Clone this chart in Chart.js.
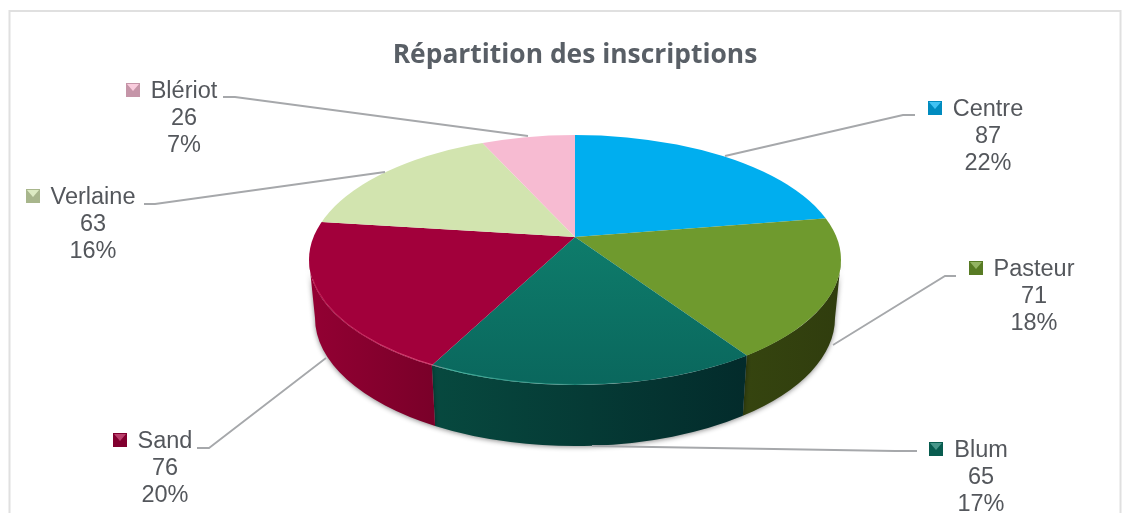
<!DOCTYPE html>
<html lang="fr">
<head>
<meta charset="utf-8">
<title>Répartition des inscriptions</title>
<script src="https://cdn.jsdelivr.net/npm/chart.js@4"></script>
<style>
  html, body { margin: 0; background: #fff; }
  canvas { display: block; }
</style>
</head>
<body>
<canvas id="pieChart" width="1131" height="513"></canvas>
<script>
const chartTitle = 'Répartition des inscriptions';
const categories = ['Centre', 'Pasteur', 'Blum', 'Sand', 'Verlaine', 'Blériot'];
const inscriptions = [87, 71, 65, 76, 63, 26];

const topColors = ['#00aeef', '#6f9a2e', '#0b7363', '#a2003b', '#d2e4af', '#f7bbd2'];
const sideFrom = ['#0080b0', '#35440f', '#07493f', '#930033', '#9aa880', '#b58a9a'];
const sideTo = ['#006a94', '#303d0e', '#032b2b', '#7a0029', '#8a9872', '#a57d8c'];

// Where the labels sit around the pie: [text centre x, first line y], leader line points
const labelSpots = [
  { x: 988, y: 108, leader: [[915, 115], [903, 115], [725, 156]] },
  { x: 1034, y: 268, leader: [[956, 276], [945, 276], [833, 345]] },
  { x: 981, y: 449, leader: [[917, 451], [895, 451], [592, 446]] },
  { x: 165, y: 440, leader: [[197, 448], [209, 448], [326, 358]] },
  { x: 93, y: 196, leader: [[144, 204], [155, 204], [385, 172]] },
  { x: 184, y: 90, leader: [[223, 97], [235, 97], [528, 136]] }
];

// Pseudo 3D projection of the flat pie
const apex = { x: 575, y: 237 };
const tilt = 0.455;
const rim = { x: 575, y: 260, rx: 266, ry: 125 };
const base = { x: 575, y: 318, rx: 260, ry: 128 };
const total = inscriptions.reduce((a, b) => a + b, 0);

// angle on the rim ellipse where a slice edge comes out
function rimAngle(angle) {
  const dx = Math.cos(angle);
  const dy = Math.sin(angle) * tilt;
  const ox = (apex.x - rim.x) / rim.rx, oy = (apex.y - rim.y) / rim.ry;
  const vx = dx / rim.rx, vy = dy / rim.ry;
  const a = vx * vx + vy * vy;
  const b = 2 * (ox * vx + oy * vy);
  const c = ox * ox + oy * oy - 1;
  const t = (-b + Math.sqrt(b * b - 4 * a * c)) / (2 * a);
  let res = Math.atan2(oy + t * vy, ox + t * vx);
  if (res < -Math.PI / 2) res += Math.PI * 2;
  return res;
}

const pie3d = {
  id: 'pie3d',
  beforeDraw(chart) {
    const ctx = chart.ctx;
    ctx.save();
    ctx.strokeStyle = '#e0e0e0';
    ctx.lineWidth = 2;
    ctx.strokeRect(9.5, 11, 1111, 560);
    ctx.restore();
  },
  beforeDatasetDraw(chart) {
    const ctx = chart.ctx;
    const arcs = chart.getDatasetMeta(0).data;

    // side wall, only the front half shows
    arcs.forEach((arc, i) => {
      let a1 = rimAngle(arc.startAngle);
      let a2 = rimAngle(arc.endAngle);
      if (a2 <= a1) a2 += Math.PI * 2;
      const lo = Math.max(a1, 0);
      const hi = Math.min(a2, Math.PI);
      if (hi <= lo) return;
      const xa = rim.x + rim.rx * Math.cos(lo);
      const xb = rim.x + rim.rx * Math.cos(hi);
      const grad = ctx.createLinearGradient(Math.min(xa, xb), 0, Math.max(xa, xb), 0);
      grad.addColorStop(0, sideFrom[i]);
      grad.addColorStop(1, sideTo[i]);
      ctx.save();
      ctx.shadowColor = 'rgba(0,0,0,0.45)';
      ctx.shadowBlur = 5;
      ctx.shadowOffsetX = 0;
      ctx.shadowOffsetY = 1;
      ctx.fillStyle = grad;
      ctx.beginPath();
      ctx.ellipse(rim.x, rim.y, rim.rx, rim.ry, 0, lo, hi);
      ctx.ellipse(base.x, base.y, base.rx, base.ry, 0, hi, lo, true);
      ctx.closePath();
      ctx.fill();
      ctx.restore();
    });

    // top face: flat arcs squashed around the apex and cut to the rim
    ctx.save();
    ctx.beginPath();
    ctx.ellipse(rim.x, rim.y, rim.rx, rim.ry, 0, 0, Math.PI * 2);
    ctx.clip();
    const first = arcs[0];
    ctx.translate(apex.x, apex.y);
    ctx.scale(1, tilt);
    ctx.translate(-first.x, -first.y);
  },
  afterDatasetDraw(chart) {
    const ctx = chart.ctx;
    ctx.restore();

    // light edge along the front of the rim
    const grad = ctx.createLinearGradient(320, 0, 640, 0);
    grad.addColorStop(0, 'rgba(255,90,140,0.35)');
    grad.addColorStop(0.35, 'rgba(255,120,160,0.6)');
    grad.addColorStop(0.4, 'rgba(110,230,205,0.6)');
    grad.addColorStop(1, 'rgba(110,230,205,0)');
    ctx.save();
    ctx.strokeStyle = grad;
    ctx.lineWidth = 1;
    ctx.beginPath();
    ctx.ellipse(rim.x, rim.y - 0.5, rim.rx - 0.5, rim.ry, 0, Math.PI * 0.42, Math.PI * 0.95);
    ctx.stroke();
    ctx.restore();
  },
  afterDraw(chart) {
    const ctx = chart.ctx;
    const lineGap = 27;
    ctx.save();
    ctx.font = '23.5px "Liberation Sans", Arial, sans-serif';
    ctx.textAlign = 'center';
    ctx.textBaseline = 'middle';
    categories.forEach((name, i) => {
      const spot = labelSpots[i];
      const textY = spot.y + 1.5;

      ctx.strokeStyle = '#a6a8ab';
      ctx.lineWidth = 1.8;
      ctx.beginPath();
      spot.leader.forEach((p, k) => k ? ctx.lineTo(p[0], p[1]) : ctx.moveTo(p[0], p[1]));
      ctx.stroke();

      ctx.fillStyle = '#54575c';
      ctx.fillText(name, spot.x, textY);
      ctx.fillText(String(inscriptions[i]), spot.x, textY + lineGap);
      ctx.fillText(Math.round(inscriptions[i] / total * 100) + '%', spot.x, textY + lineGap * 2);

      // bevelled legend key
      const kx = Math.round(spot.x - ctx.measureText(name).width / 2 - 25);
      const ky = spot.y - 7;
      const size = 14;
      ctx.fillStyle = topColors[i];
      ctx.fillRect(kx, ky, size, size);
      ctx.fillStyle = 'rgba(0,0,0,0.2)';
      ctx.fillRect(kx, ky, size, size);
      ctx.fillStyle = topColors[i];
      ctx.beginPath();
      ctx.moveTo(kx + 1, ky + 1);
      ctx.lineTo(kx + size / 2, ky + size / 2 + 1);
      ctx.lineTo(kx + size - 1, ky + 1);
      ctx.closePath();
      ctx.fill();
      ctx.fillStyle = 'rgba(255,255,255,0.25)';
      ctx.fill();
    });
    ctx.restore();
  }
};

function sliceColor(context) {
  const i = context.dataIndex;
  const area = context.chart.chartArea;
  if (i !== 2 || !area) return topColors[i];
  // Blum fades a little towards the front
  const mid = (area.top + area.bottom) / 2;
  const grad = context.chart.ctx.createLinearGradient(0, mid, 0, mid + 325);
  grad.addColorStop(0, '#0e7c6b');
  grad.addColorStop(1, '#0a675d');
  return grad;
}

new Chart(document.getElementById('pieChart').getContext('2d'), {
  type: 'pie',
  data: {
    labels: categories,
    datasets: [{
      data: inscriptions,
      backgroundColor: sliceColor,
      borderWidth: 0,
      clip: false,
      radius: 345
    }]
  },
  options: {
    responsive: false,
    animation: false,
    events: [],
    layout: { padding: { left: 19 } },
    plugins: {
      legend: { display: false },
      tooltip: { enabled: false },
      title: {
        display: true,
        text: chartTitle,
        color: '#595f66',
        font: { family: '"Open Sans", sans-serif', size: 26.4, weight: 'bold' },
        padding: { top: 40, bottom: 10 }
      }
    }
  },
  plugins: [pie3d]
});
</script>
</body>
</html>
